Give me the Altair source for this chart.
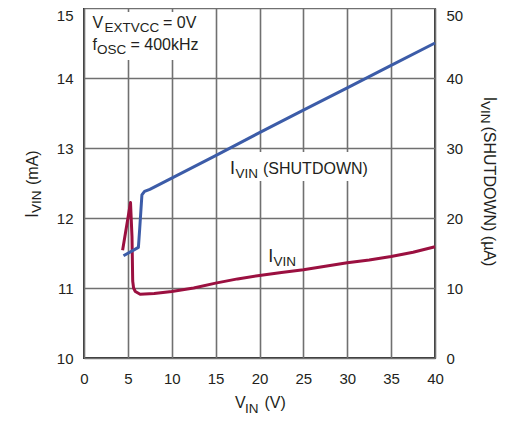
import altair as alt
import pandas as pd

# ---- data ----
vin_main = [4.4, 5.3, 5.47, 5.55, 5.65, 5.85, 6.4, 8.0, 10.0, 12.5, 15.0, 17.5, 20.0,
            22.5, 25.0, 27.5, 30.0, 32.5, 35.0, 37.5, 40.0]
ivin_ma = [11.54, 12.22, 11.73, 11.1, 11.0, 10.95, 10.91, 10.92, 10.95, 11.0, 11.07, 11.13,
           11.18, 11.22, 11.26, 11.31, 11.36, 11.40, 11.45, 11.51, 11.59]

vin_sd = [4.5, 6.2, 6.35, 6.6, 6.9, 7.5, 10.0, 15.0, 20.0, 25.0, 30.0, 35.0, 40.0]
ivin_sd_ua = [14.6, 15.8, 18.5, 23.3, 23.8, 24.1, 25.7, 28.9, 32.2, 35.4, 38.6, 41.8, 45.0]

x_ticks = [0, 5, 10, 15, 20, 25, 30, 35, 40]
y_left_ticks = [10, 11, 12, 13, 14, 15]
y_right_ticks = [0, 10, 20, 30, 40, 50]

df_main = pd.DataFrame({"vin": vin_main, "i": ivin_ma, "k": list(range(len(vin_main)))})
df_sd = pd.DataFrame({"vin": vin_sd, "i": ivin_sd_ua, "k": list(range(len(vin_sd)))})
one = pd.DataFrame({"a": [0]})

W, H = 351, 350
GRID = "#707070"
TXT = "#231f20"
TICKFONT = "Liberation Sans"
LBLFONT = "Liberation Sans"
RED = "#9b1040"
BLUE = "#3c5ca8"

x_axis = alt.Axis(values=x_ticks, grid=True, gridColor=GRID, gridWidth=1.6, domain=False,
                  ticks=False, tickSize=0, labelPadding=13, labelFont=TICKFONT,
                  labelFontSize=15, labelColor=TXT, title=None, labelFlush=False)
x_scale = alt.Scale(domain=[0, 40], nice=False, zero=False)

red = alt.Chart(df_main).mark_line(color=RED, strokeWidth=3, strokeJoin="round").encode(
    x=alt.X("vin:Q", scale=x_scale, axis=x_axis),
    y=alt.Y("i:Q", scale=alt.Scale(domain=[10, 15], nice=False, zero=False),
            axis=alt.Axis(orient="left", values=y_left_ticks, grid=True, gridColor=GRID,
                          gridWidth=1.6, domain=False, ticks=False, tickSize=0,
                          labelPadding=11, labelFont=TICKFONT, labelFontSize=15,
                          labelColor=TXT, title=None, labelFlush=False,
                          labelBaseline={"condition": {"test": "datum.value >= 15", "value": "top"},
                                         "value": "middle"})),
    order="k:Q",
)

blue = alt.Chart(df_sd).mark_line(color=BLUE, strokeWidth=3, strokeJoin="round").encode(
    x=alt.X("vin:Q", scale=x_scale, axis=x_axis),
    y=alt.Y("i:Q", scale=alt.Scale(domain=[0, 50], nice=False, zero=False),
            axis=alt.Axis(orient="right", values=y_right_ticks, grid=False, domain=False,
                          ticks=False, tickSize=0, labelPadding=11, labelFont=TICKFONT,
                          labelFontSize=15, labelColor=TXT, title=None, labelFlush=False,
                          labelBaseline={"condition": {"test": "datum.value >= 50", "value": "top"},
                                         "value": "middle"})),
    order="k:Q",
)


def box(x1, x2, y1, y2):
    return alt.Chart(one).mark_rect(color="white").encode(
        x=alt.value(x1), x2=alt.value(x2), y=alt.value(y1), y2=alt.value(y2))


def txt(s, x, y, size=16, angle=0):
    return alt.Chart(one).mark_text(text=s, font=LBLFONT, fontSize=size, color=TXT,
                                    align="left", baseline="alphabetic", angle=angle).encode(
        x=alt.value(x), y=alt.value(y))


layers = [
    box(3, 121, 4, 52),
    box(141, 286, 144, 173),
    red, blue,
    # top-left conditions
    txt("V", 8.5, 19.5), txt("EXTVCC", 20.5, 23.5, 13.5), txt("= 0V", 79, 19.5),
    txt("f", 8.5, 42), txt("OSC", 13, 46, 13.5), txt("= 400kHz", 46.5, 42),
    # curve labels
    txt("I", 146, 165.5, 18), txt("VIN", 151.5, 169.5, 13.5), txt("(SHUTDOWN)", 179, 165.5),
    txt("I", 184.3, 253.7, 18), txt("VIN", 189.5, 258, 13.5),
    # x title
    txt("V", 151, 400), txt("IN", 161, 404.5, 13.5), txt("(V)", 180.5, 400),
    # left title
    txt("I", -46.5, 210, 18, 270), txt("VIN", -43.5, 205, 13.5, 270), txt("(mA)", -46.5, 177, 16, 270),
    # right title
    txt("I", 399.5, 88.5, 18, 90), txt("VIN", 397, 93, 13.5, 90),
    txt("(SHUTDOWN)  (µA)", 399.5, 118.5, 16, 90),
]

chart = alt.layer(*layers).resolve_scale(y="independent").properties(
    width=W, height=H, autosize="none",
    padding={"left": 76, "top": 0, "right": 72, "bottom": 58},
).configure_view(stroke="#333333", strokeWidth=2)

chart.save("out.html", embed_options={"renderer": "svg", "actions": False})
